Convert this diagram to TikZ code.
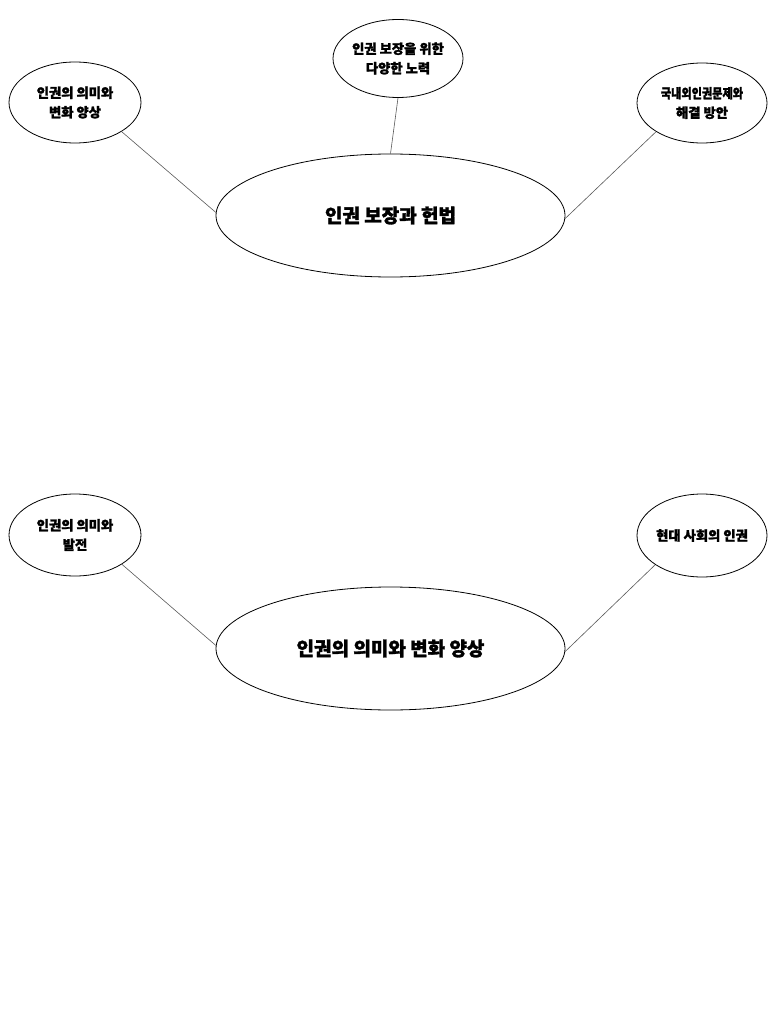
\documentclass[tikz,border=0pt]{standalone}
\usepackage{fontspec}
\usepackage{graphicx}
\usetikzlibrary{shapes.geometric}
\newfontfamily\kr{Noto Sans CJK KR}[BoldFeatures={FakeBold=1.6}]
\tikzset{
  bubble/.style={ellipse, draw=black, line width=0.8pt, inner sep=0pt,
    minimum width=132pt, minimum height=81pt, align=center,
    font=\kr\bfseries\fontsize{13.3}{19.5}\selectfont},
  topic/.style={ellipse, draw=black, line width=0.8pt, inner sep=0pt,
    minimum width=349pt, minimum height=123pt, align=center,
    font=\kr\bfseries\fontsize{19}{23}\selectfont},
  link/.style={draw=black!65, line width=0.6pt}
}
\begin{document}
\begin{tikzpicture}[x=1pt,y=-1pt]
\useasboundingbox[fill=white] (0,0) rectangle (768,1024);
% top diagram
\node[topic]  (tc) at (390.5,215.5) {인권 보장과 헌법};
\node[bubble] (tl) at (75,102.5) {인권의 의미와\\변화 양상};
\node[bubble, minimum width=130pt, minimum height=78pt] (tm) at (398,58.5) {인권 보장을 위한\\다양한 노력};
\node[bubble, minimum width=130pt, minimum height=80pt] (tr) at (702,103) {\scalebox{0.84}[1]{국내외인권문제와}\\해결 방안};
\draw[link] (tl.-32) -- (tc.179);
\draw[link] (tm.south) -- (tc.north);
\draw[link] (tr.-148) -- (tc.-1);
% bottom diagram
\node[topic]  (bc) at (390.5,648.5) {인권의 의미와 변화 양상};
\node[bubble, minimum height=82pt] (bl) at (75,535) {인권의 의미와\\발전};
\node[bubble, minimum width=130pt, minimum height=83pt] (br) at (702,535.5) {현대 사회의 인권};
\draw[link] (bl.-32) -- (bc.179);
\draw[link] (br.-148) -- (bc.-1);
\end{tikzpicture}
\end{document}
